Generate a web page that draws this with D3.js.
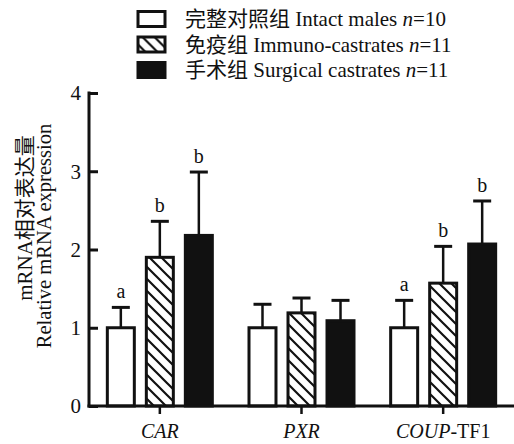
<!DOCTYPE html>
<html>
<head>
<meta charset="utf-8">
<script src="https://cdn.jsdelivr.net/npm/d3@7"></script>
<style>
  body { margin: 0; background: #fff; }
  svg text { font-family: "Liberation Serif", "Noto Sans CJK SC", serif; fill: #111; }
</style>
</head>
<body>
<div id="chart"></div>
<script>
// data
var genes = ["CAR", "PXR", "COUP-TF1"];
var groups = ["intact", "immuno", "surgical"];
var groupLabels = [
  {cn: "完整对照组", en: "Intact males ", n: "10"},
  {cn: "免疫组", en: "Immuno-castrates ", n: "11"},
  {cn: "手术组", en: "Surgical castrates ", n: "11"}
];
var means = {
  intact:   [1.00, 1.00, 1.00],
  immuno:   [1.90, 1.19, 1.57],
  surgical: [2.18, 1.09, 2.07]
};
var upperSD = {
  intact:   [1.26, 1.30, 1.35],
  immuno:   [2.36, 1.38, 2.04],
  surgical: [2.99, 1.35, 2.62]
};
var sigLetters = {
  intact:   ["a", "", "a"],
  immuno:   ["b", "", "b"],
  surgical: ["b", "", "b"]
};
var yTicks = [0, 1, 2, 3, 4];

var W = 514, H = 444;
var svg = d3.select("#chart").append("svg")
    .attr("width", W).attr("height", H);

// hatch for the immuno group
svg.append("defs").append("pattern")
    .attr("id", "hatch")
    .attr("patternUnits", "userSpaceOnUse")
    .attr("width", 12).attr("height", 12)
  .append("path")
    .attr("d", "M0,0L12,12M-3,9L3,15M9,-3L15,3")
    .attr("stroke", "#111").attr("stroke-width", 2.2);

var fills = {intact: "#fff", immuno: "url(#hatch)", surgical: "#111"};

var y = d3.scaleLinear().domain([0, 4]).range([406, 93]);
var x0 = d3.scaleBand().domain(genes).range([89, 514]);
var x1 = d3.scaleBand().domain(groups).range([0, 105]).paddingInner(0.308);

var barX = function(g, i) {
  return x0(genes[i]) + x0.bandwidth() / 2 - 52.5 + x1(g);
};

// bars
groups.forEach(function(g) {
  var data = genes.map(function(d, i) { return i; });
  var grp = svg.append("g");

  // error bars (upper only)
  grp.selectAll("line.err")
      .data(data)
    .enter().append("line")
      .attr("x1", function(i) { return barX(g, i) + x1.bandwidth() / 2; })
      .attr("x2", function(i) { return barX(g, i) + x1.bandwidth() / 2; })
      .attr("y1", function(i) { return y(means[g][i]); })
      .attr("y2", function(i) { return y(upperSD[g][i]); })
      .attr("stroke", "#111").attr("stroke-width", 2.5);
  grp.selectAll("line.cap")
      .data(data)
    .enter().append("line")
      .attr("x1", function(i) { return barX(g, i) + x1.bandwidth() / 2 - 9; })
      .attr("x2", function(i) { return barX(g, i) + x1.bandwidth() / 2 + 9; })
      .attr("y1", function(i) { return y(upperSD[g][i]); })
      .attr("y2", function(i) { return y(upperSD[g][i]); })
      .attr("stroke", "#111").attr("stroke-width", 3);

  grp.selectAll("rect")
      .data(data)
    .enter().append("rect")
      .attr("x", function(i) { return barX(g, i); })
      .attr("y", function(i) { return y(means[g][i]); })
      .attr("width", x1.bandwidth())
      .attr("height", function(i) { return y(0) - y(means[g][i]); })
      .attr("fill", fills[g])
      .attr("stroke", "#111").attr("stroke-width", 3);

  grp.selectAll("text")
      .data(data.filter(function(i) { return sigLetters[g][i] !== ""; }))
    .enter().append("text")
      .attr("x", function(i) { return barX(g, i) + x1.bandwidth() / 2; })
      .attr("y", function(i) { return y(upperSD[g][i]) - 9; })
      .attr("text-anchor", "middle")
      .style("font-size", "20px")
      .text(function(i) { return sigLetters[g][i]; });
});

// y axis, ticks pointing inward
var yAxis = svg.append("g")
    .attr("transform", "translate(89,0)")
    .call(d3.axisRight(y).tickValues(yTicks).tickSize(9).tickFormat(""));
yAxis.select(".domain").remove();
yAxis.selectAll("line").attr("stroke", "#111").attr("stroke-width", 3);
svg.append("line")
    .attr("x1", 89).attr("x2", 89)
    .attr("y1", y(4) - 1.5).attr("y2", y(0) + 1.5)
    .attr("stroke", "#111").attr("stroke-width", 3);
svg.selectAll("text.ytick")
    .data(yTicks)
  .enter().append("text")
    .attr("class", "ytick")
    .attr("x", 81)
    .attr("y", function(d) { return y(d); })
    .attr("dy", "0.35em")
    .attr("text-anchor", "end")
    .style("font-size", "21px")
    .text(function(d) { return d; });

// x axis, ticks pointing down
var xAxis = svg.append("g")
    .attr("transform", "translate(0," + y(0) + ")")
    .call(d3.axisBottom(x0).tickSize(8).tickFormat(""));
xAxis.select(".domain").remove();
xAxis.selectAll("line").attr("stroke", "#111").attr("stroke-width", 2.5);
svg.append("line")
    .attr("x1", 87.5).attr("x2", 514)
    .attr("y1", y(0)).attr("y2", y(0))
    .attr("stroke", "#111").attr("stroke-width", 3);

// x labels
var xl = svg.selectAll("text.xlab")
    .data(genes)
  .enter().append("text")
    .attr("class", "xlab")
    .attr("x", function(d) { return x0(d) + x0.bandwidth() / 2; })
    .attr("y", 438)
    .attr("text-anchor", "middle")
    .style("font-size", "20px");
xl.each(function(d) {
  var t = d3.select(this);
  if (d.indexOf("-") > 0) {
    var parts = d.split("-");
    t.append("tspan").style("font-style", "italic").text(parts[0]);
    t.append("tspan").text("-" + parts[1]);
  } else {
    t.append("tspan").style("font-style", "italic").text(d);
  }
});

// y title, two lines
svg.append("text")
    .attr("transform", "translate(32,218) rotate(-90)")
    .attr("text-anchor", "middle")
    .style("font-size", "21px")
    .text("mRNA相对表达量");
svg.append("text")
    .attr("transform", "translate(51,236) rotate(-90)")
    .attr("text-anchor", "middle")
    .style("font-size", "20.5px")
    .text("Relative mRNA expression");

// legend
var legend = svg.selectAll("g.legend")
    .data(groups)
  .enter().append("g")
    .attr("class", "legend")
    .attr("transform", function(d, i) { return "translate(138," + (19 + i * 25.5) + ")"; });
legend.append("rect")
    .attr("x", 0).attr("y", -7.5)
    .attr("width", 27).attr("height", 15)
    .attr("fill", function(d) { return fills[d]; })
    .attr("stroke", "#111").attr("stroke-width", 3);
var lt = legend.append("text")
    .attr("x", 47).attr("y", 7)
    .style("font-size", "21px");
lt.append("tspan").text(function(d, i) { return groupLabels[i].cn + " " + groupLabels[i].en; });
lt.append("tspan").style("font-style", "italic").text("n");
lt.append("tspan").text(function(d, i) { return "=" + groupLabels[i].n; });
</script>
</body>
</html>
